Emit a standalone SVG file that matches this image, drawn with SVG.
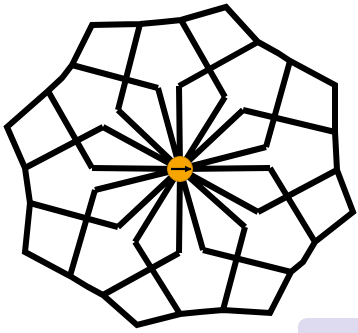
<svg xmlns="http://www.w3.org/2000/svg" width="358" height="333" viewBox="0 0 358 333">
<style>
.l{fill:none;stroke:#000;stroke-width:6;stroke-linejoin:miter;stroke-linecap:butt}
</style>
<defs>
<marker id="ah" viewBox="0 0 10 10" refX="9" refY="5" markerWidth="3.2" markerHeight="3.2" orient="auto"><path d="M0,0 L10,5 L0,10 z" fill="#000"/></marker>
</defs>
<rect x="298" y="318" width="80" height="40" rx="9" fill="#dedaf0"/>
<g id="outline">
<polygon class="l" points="337,170 335,132 335,85 290,61 278,53 258,42 226,7 181,20 162,22 140,24 92,25 72,65 62,78 48,91 7,127 25,168 30,203 25,252 70,276 88,287 103,295 137,325 180,314 200,312 223,310 270,313 291,272 303,262 315,242 353,212"/>
</g>
<g id="connectors">
<g id="spokes" class="l">
<path class="l" d="M180,169 L270,168 M180,169 L266,147 M180,169 L243,110 M180,169 L225,97 M180,169 L179,86 M180,169 L158,88 M180,169 L118,110 M180,169 L103,127 M180,169 L92,168 M180,169 L95,190 M180,169 L118,227 M180,169 L135,242 M180,169 L179,253 M180,169 L203,250 M180,169 L245,227 M180,169 L258,212"/>
</g>
<g id="links">
<path class="l" d="M270,168 L315,242 M266,147 L290,61 M243,110 L335,132 M225,97 L181,20 M179,86 L258,42 M158,88 L72,65 M118,110 L140,24 M103,127 L25,168 M92,168 L48,91 M95,190 L70,276 M118,227 L30,203 M135,242 L180,314 M179,253 L103,295 M203,250 L291,272 M245,227 L223,310 M258,212 L337,170"/>
</g>
</g>
<g id="center">
<circle cx="180" cy="169" r="12.5" fill="#f8a500" stroke="#d98f00" stroke-width="1"/>
<line x1="171" y1="169" x2="191" y2="169" stroke="#000" stroke-width="2.2" marker-end="url(#ah)"/>
</g>
</svg>
